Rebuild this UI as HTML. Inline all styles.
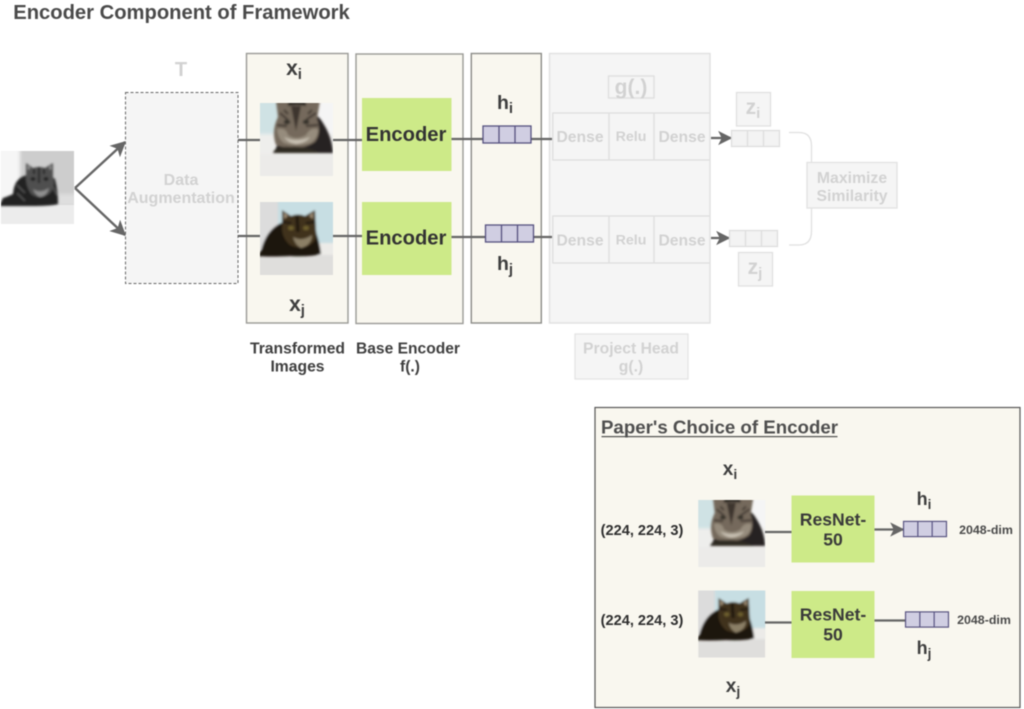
<!DOCTYPE html>
<html>
<head>
<meta charset="utf-8">
<style>
html,body{margin:0;padding:0;background:#fff;width:1024px;height:709px;overflow:hidden}
svg{display:block}
#root{filter:blur(.45px)}
text{font-family:"Liberation Sans",sans-serif;font-weight:bold;text-anchor:middle}
.d{fill:#3f3f3f}.f{fill:#d2d2d2}
</style>
</head>
<body>
<svg id="root" width="1024" height="709" viewBox="0 0 1024 709" xmlns="http://www.w3.org/2000/svg">
<defs>
<filter id="b" x="-10%" y="-10%" width="120%" height="120%"><feGaussianBlur stdDeviation="1.100"/></filter>
<filter id="b2" x="-10%" y="-10%" width="120%" height="120%"><feGaussianBlur stdDeviation="1.800"/></filter>
<clipPath id="c"><rect width="73" height="73"/></clipPath>
<marker id="a" viewBox="0 0 10 10" refX="9" refY="5" markerWidth="6.500" markerHeight="6.500" markerUnits="strokeWidth" orient="auto-start-reverse"><path d="M0 0L10 5L0 10L2.500 5Z" fill="#666"/></marker>
<g id="catA" clip-path="url(#c)">
<rect width="73" height="73" fill="#ecebe9"/>
<g filter="url(#b2)">
<rect x="-5" y="-5" width="60" height="36" fill="#cfe2e4"/>
<rect x="55" y="-5" width="25" height="36" fill="#f5f5f5"/>
<rect x="-5" y="31" width="80" height="20" fill="#eeeeec"/>
</g>
<g filter="url(#b)">
<path d="M44 8Q56 8 63 20Q72 34 73 50H14L20 35Z" fill="#262220"/>
<path d="M16 42Q11 28 18 14L16 -2H60L57 16Q62 30 55 39Q46 45 36 45Q24 45 16 42Z" fill="#75695b"/>
<path d="M28 -2H46V3Q37 1 28 3Z" fill="#2a2622"/>
<path d="M17 26Q26 24 28 32Q36 38 46 32Q50 24 58 26Q58 36 50 40Q36 44 24 40Q18 36 17 26Z" fill="#968c7d"/>
<path d="M24 34Q36 40 50 34Q46 40 36 41Q28 40 24 34Z" fill="#c8c0b2"/>
<path d="M31 3L36 28L41 3Z" fill="#3e362e"/>
<path d="M20 10L28 17M56 10L46 17M17 22L27 23M58 22L46 23M24 7L28 11M52 7L48 11" stroke="#403830" stroke-width="2"/>
<ellipse cx="27" cy="19" rx="3.300" ry="2.300" fill="#35332a"/>
<ellipse cx="46" cy="19" rx="3.300" ry="2.300" fill="#35332a"/>
<path d="M13 50Q15 43 30 44Q50 43 60 50Z" fill="#2e2924"/>
</g>
</g>
<g id="catB" clip-path="url(#c)">
<rect width="73" height="73" fill="#dfdedc"/>
<g filter="url(#b)">
<rect x="-3" y="-3" width="21" height="50" fill="#dcdcdc"/>
<rect x="18" y="-3" width="60" height="44" fill="#c7dee3"/>
<rect x="56" y="41" width="20" height="12" fill="#ecebe8"/>
<path d="M-3 54L1 49Q6 28 21 21Q40 16 56 30Q60 42 61 52Q50 55 30 54Q10 55 -3 54Z" fill="#1b150d"/>
<path d="M22 26L22 8L31 14Q38 11 45 14L55 8L56 28Q58 38 50 43Q40 48 30 43Q22 36 22 26Z" fill="#41331d"/>
<path d="M33 35Q42 40 52 33Q52 43 41 46Q35 43 33 35Z" fill="#8b7f66"/>
<ellipse cx="31" cy="26" rx="3" ry="2.300" fill="#6d5e2e"/>
<ellipse cx="46" cy="26" rx="3" ry="2.300" fill="#6d5e2e"/>
<path d="M24 10L28 14L24 17ZM53 10L49 14L53 17Z" fill="#9d8c74"/>
<path d="M37 14L38 30" stroke="#1b150d" stroke-width="3"/>
<path d="M23 20L31 21M55 20L46 21" stroke="#1b150d" stroke-width="2"/>
</g>
</g>
<g id="catG" clip-path="url(#c)">
<rect width="73" height="73" fill="#cdcdcd"/>
<g filter="url(#b2)">
<rect x="-3" y="-3" width="22" height="58" fill="#f6f6f6"/>
<rect x="56" y="43" width="20" height="12" fill="#dedede"/>
</g>
<rect y="54" width="73" height="19" fill="#ececec"/>
<g filter="url(#b)">
<path d="M-2 55L2 47Q8 45 12 43Q13 27 26 24Q44 20 54 28Q57 40 57 53Q50 55 30 55Q10 55 -2 55Z" fill="#212121"/>
<path d="M25 24L25 12L32 17Q38 15 44 17L52 12L52 26Q55 36 48 43Q38 49 30 43Q24 34 25 24Z" fill="#505050"/>
<path d="M32 38Q39 43 48 37Q46 45 39 46Q34 44 32 38Z" fill="#8f8f8f"/>
<path d="M27 14L29 17L27 19ZM50 14L48 17L50 19Z" fill="#a5a5a5"/>
<ellipse cx="32" cy="28" rx="2.500" ry="2" fill="#222"/>
<ellipse cx="45" cy="28" rx="2.500" ry="2" fill="#222"/>
<path d="M38 16V32M33 18V23M43 18V23" stroke="#222" stroke-width="2"/>
<path d="M16 34L24 42M16 42L24 50M52 36L56 44" stroke="#555" stroke-width="1.500"/>
</g>
</g>
<g id="cells3">
<rect x="0" y="0" width="48" height="17" fill="#d0cee2" stroke="#56517f" stroke-width="1.300"/>
<path d="M16 0V17M32 0V17" stroke="#56517f" stroke-width="1.300"/>
</g>
<g id="cellsL">
<rect x="0" y="0" width="48" height="16" fill="#f3f3f3" stroke="#dedede" stroke-width="1.300"/>
<path d="M16 0V16M32 0V16" stroke="#dedede" stroke-width="1.300"/>
</g>
</defs>

<rect width="1024" height="709" fill="#fff"/>
<text x="181.500" y="19" font-size="20.200" fill="#4a4a4a">Encoder Component of Framework</text>

<!-- input image and arrows -->
<use href="#catG" x="1" y="151"/>
<path d="M75 188L125 142" stroke="#666" stroke-width="2.400" fill="none" marker-end="url(#a)"/>
<path d="M75 188L125 235" stroke="#666" stroke-width="2.400" fill="none" marker-end="url(#a)"/>

<!-- Augmentation -->
<text x="181" y="76" font-size="20" class="f">T</text>
<rect x="125.500" y="92.500" width="112.500" height="191" fill="#f5f5f5" stroke="#666" stroke-width="1" stroke-dasharray="3 2"/>
<text x="181" y="185" font-size="16" class="f">Data</text>
<text x="181" y="203" font-size="16" class="f">Augmentation</text>

<!-- panels -->
<rect x="246.500" y="53.500" width="101.500" height="269.500" fill="#f9f7ef" stroke="#9a9a96" stroke-width="1.400"/>
<rect x="356" y="54" width="107" height="269.500" fill="#f9f7ef" stroke="#9a9a96" stroke-width="1.400"/>
<rect x="471.300" y="53.500" width="70" height="269.500" fill="#f9f7ef" stroke="#8c8c88" stroke-width="1.400"/>
<rect x="549.500" y="53.500" width="160.500" height="269.500" fill="#f5f5f5" stroke="#e0e0e0" stroke-width="1.400"/>

<!-- connectors -->
<path d="M238 140H260M333 140H362M238 236H260M333 236H362M451 139H483M531 139H552M451 237H485M533 237H552" stroke="#666" stroke-width="2.200" fill="none"/>

<text x="294" y="75" font-size="21" class="d">x<tspan font-size="15" dy="4">i</tspan></text>
<text x="297" y="311" font-size="21" class="d">x<tspan font-size="15" dy="4">j</tspan></text>
<use href="#catA" x="260" y="103"/>
<use href="#catB" x="260" y="202"/>

<rect x="362" y="98" width="89.500" height="73" fill="#cdea88"/>
<rect x="362" y="202" width="89.500" height="73" fill="#cdea88"/>
<text x="406" y="141" font-size="20.200" fill="#333">Encoder</text>
<text x="406" y="244.600" font-size="20.200" fill="#333">Encoder</text>

<text x="505" y="109" font-size="19.500" class="d">h<tspan font-size="15" dy="4">i</tspan></text>
<text x="505" y="270" font-size="19.500" class="d">h<tspan font-size="15" dy="4">j</tspan></text>
<use href="#cells3" x="483" y="126"/>
<use href="#cells3" x="485.500" y="225"/>

<!-- projection head -->
<rect x="608.500" y="76" width="45.500" height="22" fill="#f5f5f5" stroke="#dedede" stroke-width="1.300"/>
<text x="631" y="94" font-size="21" class="f">g(.)</text>
<path d="M710 113H552.800V160H710M609 113V160M654 113V160M710 216H552.800V263H710M609 216V263M654 216V263" fill="none" stroke="#dedede" stroke-width="1.300"/>
<g class="f" font-size="15.700">
<text x="580" y="142">Dense</text><text x="682" y="142">Dense</text>
<text x="580" y="245.500">Dense</text><text x="682" y="245.500">Dense</text>
</g>
<g class="f" font-size="14.200">
<text x="631" y="141">Relu</text><text x="631" y="244.500">Relu</text>
</g>
<rect x="575" y="334" width="113" height="45" fill="#f5f5f5" stroke="#e4e4e4" stroke-width="1.300"/>
<text x="631" y="353.500" font-size="15.700" class="f">Project Head</text>
<text x="631" y="371.500" font-size="15.700" class="f">g(.)</text>

<path d="M711 138H731" stroke="#666" stroke-width="2.200" marker-end="url(#a)"/>
<path d="M711 238H729" stroke="#666" stroke-width="2.200" marker-end="url(#a)"/>

<rect x="736.500" y="92.500" width="34" height="33.500" fill="#f5f5f5" stroke="#e0e0e0" stroke-width="1.300"/>
<text x="753" y="114" font-size="21" class="f">z<tspan font-size="15" dy="4">i</tspan></text>
<use href="#cellsL" x="731.500" y="130.500"/>
<use href="#cellsL" x="729.500" y="230.500"/>
<rect x="738.500" y="252.500" width="34" height="33.500" fill="#f5f5f5" stroke="#e0e0e0" stroke-width="1.300"/>
<text x="755" y="274" font-size="21" class="f">z<tspan font-size="15" dy="4">j</tspan></text>

<path d="M789 132.500H799Q811.500 132.500 811.500 146V162M811.500 208V231Q811.500 245 799 245H789" fill="none" stroke="#e0e0e0" stroke-width="1.300"/>
<rect x="807" y="162.500" width="90" height="45.500" fill="#f5f5f5" stroke="#e2e2e2" stroke-width="1.300"/>
<text x="852" y="183" font-size="15.800" class="f">Maximize</text>
<text x="852" y="201" font-size="15.800" class="f">Similarity</text>

<text x="297.500" y="353.500" font-size="15.700" class="d">Transformed</text>
<text x="297.500" y="371.500" font-size="15.700" class="d">Images</text>
<text x="408" y="353.500" font-size="15.600" class="d">Base Encoder</text>
<text x="410" y="371.500" font-size="15.600" class="d">f(.)</text>

<!-- lower panel -->
<rect x="595" y="407.500" width="425" height="300" fill="#f9f7ef" stroke="#555" stroke-width="1.200"/>
<text x="719.500" y="433.500" font-size="18.700" fill="#4f4f4f">Paper's Choice of Encoder</text>
<rect x="601.500" y="436" width="236" height="1.200" fill="#4f4f4f"/>

<text x="730" y="475" font-size="19" class="d">x<tspan font-size="14" dy="4">i</tspan></text>
<text x="733" y="692" font-size="19" class="d">x<tspan font-size="14" dy="4">j</tspan></text>
<text x="642" y="535" font-size="14.600" fill="#2e2e2e">(224, 224, 3)</text>
<text x="642" y="625" font-size="14.600" fill="#2e2e2e">(224, 224, 3)</text>

<svg x="698" y="500" width="67.500" height="67" viewBox="0 0 73 73"><use href="#catA"/></svg>
<svg x="698" y="590.500" width="67.500" height="67" viewBox="0 0 73 73"><use href="#catB"/></svg>

<path d="M765 532H792M765 622.500H792M874 620.500H906" stroke="#666" stroke-width="2.200" fill="none"/>
<path d="M874 529.500H903" stroke="#666" stroke-width="2.200" fill="none" marker-end="url(#a)"/>

<rect x="791.500" y="495.500" width="83" height="67" fill="#cdea88"/>
<rect x="791.500" y="591" width="83" height="67" fill="#cdea88"/>
<text x="833" y="525.500" font-size="17.600" fill="#3a3a3a">ResNet-</text>
<text x="833" y="545.500" font-size="17.600" fill="#3a3a3a">50</text>
<text x="833" y="620.500" font-size="17.600" fill="#3a3a3a">ResNet-</text>
<text x="833" y="640.500" font-size="17.600" fill="#3a3a3a">50</text>

<text x="924" y="505" font-size="18" class="d">h<tspan font-size="13.500" dy="4">i</tspan></text>
<text x="924" y="654" font-size="18" class="d">h<tspan font-size="13.500" dy="4">j</tspan></text>
<svg x="902.500" y="520.500" width="45" height="17" viewBox="-1 -1 50 19"><use href="#cells3"/></svg>
<svg x="904.500" y="611" width="45" height="17" viewBox="-1 -1 50 19"><use href="#cells3"/></svg>
<text x="986" y="534" font-size="12.400" fill="#4a4a4a">2048-dim</text>
<text x="984" y="624" font-size="12.400" fill="#4a4a4a">2048-dim</text>
</svg>
</body>
</html>
